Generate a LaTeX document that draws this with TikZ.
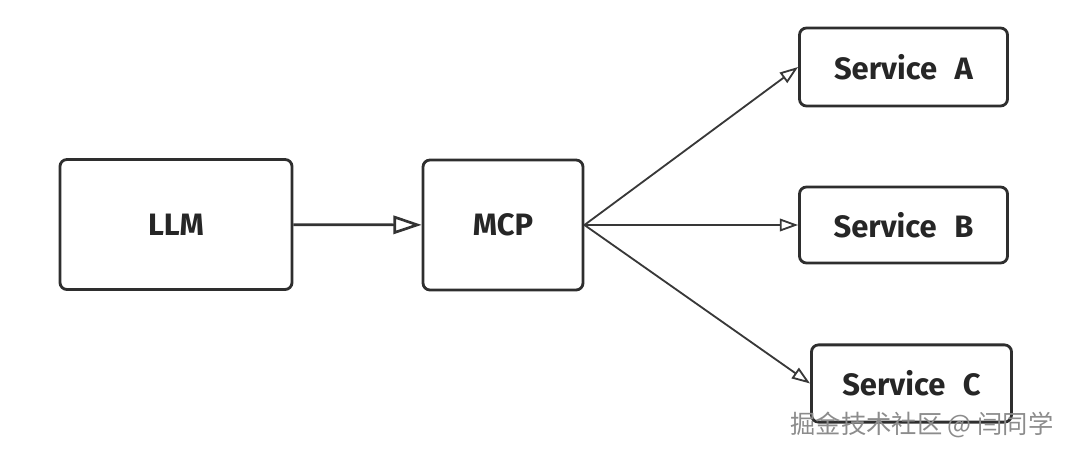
\documentclass[tikz,border=0pt]{standalone}
\usepackage{fontspec}
\setmainfont{Fira Sans}
\newfontfamily\cjkfont{Noto Sans CJK SC}
\usepackage{xcolor}
\usepackage{tikz}
\usetikzlibrary{arrows.meta}

\begin{document}
\begin{tikzpicture}[
    x=0.025cm, y=-0.025cm,
    block/.style={draw=black!82, line width=2pt, rounded corners=5pt, fill=white,
        font=\fontsize{22}{26}\selectfont\bfseries, text=black!85, inner sep=0pt},
    bigline/.style={draw=black!80, line width=1.9pt, -{Triangle[open, length=20pt, width=13pt, line width=1.9pt]}},
    line/.style={draw=black!78, line width=1.3pt, -{Triangle[open, length=13pt, width=9pt, line width=1.3pt]}},
    watermark/.style={font=\cjkfont\fontsize{18}{22}\selectfont, text=black!45}
]
\useasboundingbox (0,0) rectangle (1068,454);

\node[block, minimum width=5.8cm, minimum height=3.25cm] (llm) at (176,224.5) {LLM};
\node[block, minimum width=4cm, minimum height=3.25cm] (mcp) at (503,225) {MCP};
\node[block, minimum width=5.2cm, minimum height=1.95cm] (svca) at (903.5,67) {Service\,\, A};
\node[block, minimum width=5.2cm, minimum height=1.9cm] (svcb) at (903.5,225) {Service\,\, B};
\node[block, minimum width=5cm, minimum height=1.93cm] (svcc) at (911.5,383.5) {Service\,\, C};

\draw[bigline] (llm) -- (mcp);
\draw[line] (mcp.east) -- (svca.west);
\draw[line] (mcp.east) -- (svcb.west);
\draw[line] (mcp.east) -- (svcc.west);

\node[watermark] (mark) at (922,425) {掘金技术社区 @ 闫同学};

\end{tikzpicture}
\end{document}
